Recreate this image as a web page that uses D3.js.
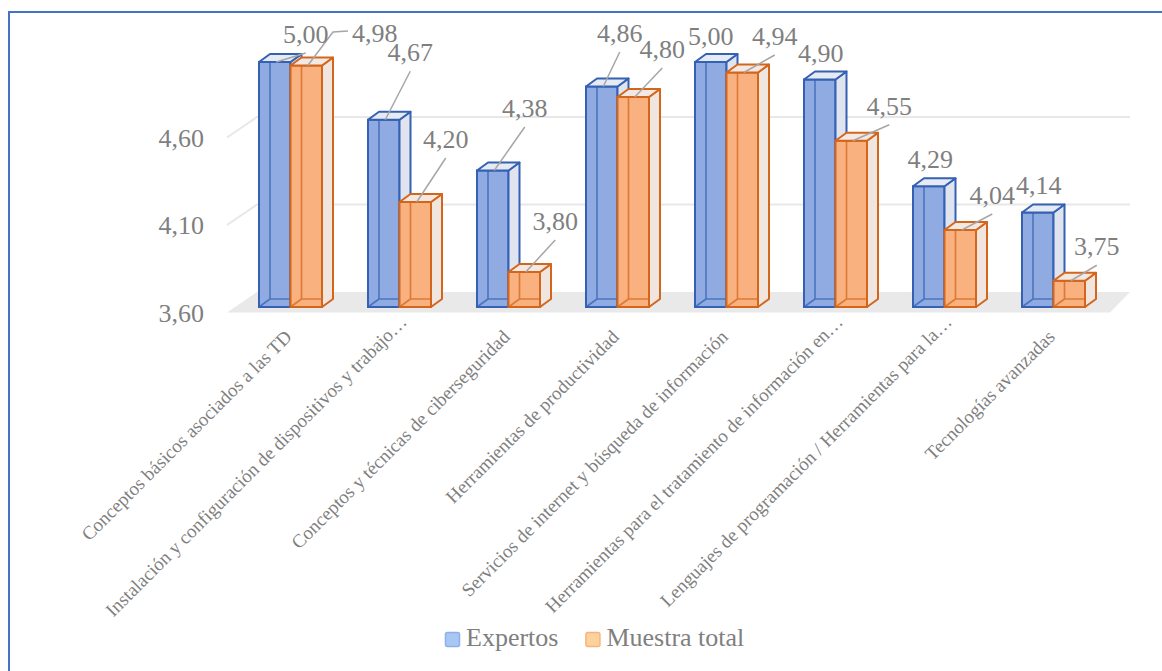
<!DOCTYPE html>
<html lang="es">
<head>
<meta charset="utf-8">
<title>Expertos vs Muestra total</title>
<script src="https://d3js.org/d3.v7.min.js"></script>
<style>
  body { margin: 0; background: #fff; }
  text { font-family: "Times New Roman", "Liberation Serif", serif; fill: #7f7f7f; }
</style>
</head>
<body>
<script>
// data
var categories = [
  "Conceptos básicos asociados a las TD",
  "Instalación y configuración de dispositivos y trabajo…",
  "Conceptos y técnicas de ciberseguridad",
  "Herramientas de productividad",
  "Servicios de internet y búsqueda de información",
  "Herramientas para el tratamiento de información en…",
  "Lenguajes de programación / Herramientas para la…",
  "Tecnologías avanzadas"
];
var seriesNames = ["Expertos", "Muestra total"];
var expertos = [5.00, 4.67, 4.38, 4.86, 5.00, 4.90, 4.29, 4.14];
var muestra  = [4.98, 4.20, 3.80, 4.80, 4.94, 4.55, 4.04, 3.75];
var yTicks = [3.60, 4.10, 4.60];

// where each data label sits, relative to the top of its bar (px)
var expertosLabelPos = [[31, -19], [26.5, -58.5], [32, -53.5], [18, -44.5], [0, -17], [1, -17.5], [1.5, -18], [1, -18.5]];
var muestraLabelPos  = [[68.5, -23.5], [30.5, -54], [31, -42], [29, -39], [32.5, -27.5], [38, -26], [32, -26], [27.5, -25.5]];

var width = 1162, height = 671;
var depth = [11, -8];          // bar depth offset
var wall = [30, -20.5];        // floor / wall depth offset

var styles = [
  { front: "#8fabe2", side: "#dfe4ee", top: "#e6eaf2", stroke: "#3461b3", legend: "#a9c7f5", legendStroke: "#8db0e8" },
  { front: "#f9b17f", side: "#f1e5df", top: "#f4e8e2", stroke: "#d4661c", legend: "#fdd29d", legendStroke: "#f5b57c" }
];

var svg = d3.select("body").append("svg")
    .attr("width", width)
    .attr("height", height);

// frame
svg.append("path")
    .attr("d", "M9,680 L9,12 L1170,12")
    .attr("fill", "none")
    .attr("stroke", "#4472c4")
    .attr("stroke-width", 2);

var x0 = d3.scaleBand()
    .domain(categories)
    .range([236, 1108])
    .paddingInner(0.422)
    .paddingOuter(0.211);

var x1 = d3.scaleBand()
    .domain(seriesNames)
    .range([0, x0.bandwidth()]);

var y = d3.scaleLinear()
    .domain([3.6, 5.0])
    .range([307, 62]);

var frontLeft = 227, backLeft = frontLeft + wall[0], backRight = 1130, frontRight = 1110;
function fy(v) { return y(v) + 5.5; }          // floor front plane
function by(v) { return fy(v) + wall[1]; }     // back wall

// floor
var base = yTicks[0];
svg.append("path")
    .attr("d", "M" + frontLeft + "," + fy(base) + " L" + backLeft + "," + by(base) +
               " L" + backRight + "," + by(base) + " L" + frontRight + "," + fy(base) + " Z")
    .attr("fill", "#e9e9e9");

// gridlines
svg.append("g").selectAll("path")
    .data(yTicks.slice(1))
    .enter().append("path")
    .attr("d", function(d) {
      return "M" + frontLeft + "," + fy(d) + " L" + backLeft + "," + by(d) + " L" + backRight + "," + by(d);
    })
    .attr("fill", "none")
    .attr("stroke", "#e8e8e8")
    .attr("stroke-width", 2);

// y tick labels
svg.append("g").selectAll("text")
    .data(yTicks)
    .enter().append("text")
    .attr("x", 204)
    .attr("y", function(d) { return fy(d) + 9; })
    .attr("text-anchor", "end")
    .style("font-size", "26px")
    .text(function(d) { return d3.format(".2f")(d).replace(".", ","); });

function drawBox(g, x, w, yTop, yBot, s) {
  var dx = depth[0], dy = depth[1];
  var sw = 2;
  // front face fill
  g.append("rect")
      .attr("x", x).attr("y", yTop)
      .attr("width", w).attr("height", yBot - yTop)
      .attr("fill", s.front);
  // hidden edges seen through
  g.append("path")
      .attr("d", "M" + (x + dx) + "," + (yTop + dy) + " L" + (x + dx) + "," + (yBot + dy) +
                 " L" + (x + w + dx) + "," + (yBot + dy) +
                 " M" + x + "," + yBot + " L" + (x + dx) + "," + (yBot + dy))
      .attr("fill", "none")
      .attr("stroke", s.stroke)
      .attr("stroke-opacity", 0.75)
      .attr("stroke-width", 1.6);
  g.append("rect")
      .attr("x", x).attr("y", yTop)
      .attr("width", w).attr("height", yBot - yTop)
      .attr("fill", "none")
      .attr("stroke", s.stroke)
      .attr("stroke-width", sw);
  // side face
  g.append("path")
      .attr("d", "M" + (x + w) + "," + yTop + " L" + (x + w + dx) + "," + (yTop + dy) +
                 " L" + (x + w + dx) + "," + (yBot + dy) + " L" + (x + w) + "," + yBot + " Z")
      .attr("fill", s.side)
      .attr("stroke", s.stroke)
      .attr("stroke-width", sw)
      .attr("stroke-linejoin", "round");
  // top face
  g.append("path")
      .attr("d", "M" + x + "," + yTop + " L" + (x + dx) + "," + (yTop + dy) +
                 " L" + (x + w + dx) + "," + (yTop + dy) + " L" + (x + w) + "," + yTop + " Z")
      .attr("fill", s.top)
      .attr("stroke", s.stroke)
      .attr("stroke-width", sw)
      .attr("stroke-linejoin", "round");
}

var series = [expertos, muestra];
var labelPos = [expertosLabelPos, muestraLabelPos];
var bars = svg.append("g");
var labels = svg.append("g");

categories.forEach(function(cat, i) {
  series.forEach(function(vals, k) {
    var x = x0(cat) + x1(seriesNames[k]);
    var w = x1.bandwidth();
    drawBox(bars.append("g"), x, w, y(vals[i]), y(base), styles[k]);

    var cx = x + w / 2, top = y(vals[i]);
    var p = labelPos[k][i];
    var tx = cx + p[0], ty = top + p[1];
    var txt = d3.format(".2f")(vals[i]).replace(".", ",");
    var t = labels.append("text")
        .attr("x", tx).attr("y", ty)
        .attr("text-anchor", "middle")
        .style("font-size", "26px")
        .text(txt);
    if (Math.abs(p[0]) > 10) {
      var half = t.node().getComputedTextLength() / 2;
      var d;
      if (p[0] > 50) {
        // leader to the left side of the label, with a short elbow
        d = "M" + (cx + 1.5) + "," + top + " L" + (tx - half - 19) + "," + (ty - 10) +
            " L" + (tx - half - 4) + "," + (ty - 11);
      } else {
        d = "M" + (cx + 1.5) + "," + top + " L" + tx + "," + (ty + 10);
      }
      labels.insert("path", ":first-child")
          .attr("d", d)
          .attr("fill", "none")
          .attr("stroke", "#a6a6a6")
          .attr("stroke-width", 1.5);
    }
  });
});

// category labels
svg.append("g").selectAll("text")
    .data(categories)
    .enter().append("text")
    .attr("text-anchor", "end")
    .attr("transform", function(d) {
      var c = x0(d) + x0.bandwidth() / 2;
      var cut = d.slice(-1) === "…";
      var ax = cut ? c + 8.5 : c + 2.5;
      var ay = cut ? 323 : 338;
      return "translate(" + ax + "," + ay + ") rotate(-45)";
    })
    .style("font-size", "19px")
    .text(function(d) { return d; });

// legend
var legend = svg.append("g").attr("transform", "translate(445,632)");
var lx = 0;
seriesNames.forEach(function(name, k) {
  var item = legend.append("g").attr("transform", "translate(" + lx + ",0)");
  item.append("rect")
      .attr("x", 0.5).attr("y", 0.5)
      .attr("width", 14).attr("height", 14)
      .attr("rx", 2)
      .attr("fill", styles[k].legend)
      .attr("stroke", styles[k].legendStroke)
      .attr("stroke-width", 1.5);
  var t = item.append("text")
      .attr("x", 21).attr("y", 14)
      .style("font-size", "26px")
      .text(name);
  lx += 21 + t.node().getComputedTextLength() + 27;
});
</script>
</body>
</html>
